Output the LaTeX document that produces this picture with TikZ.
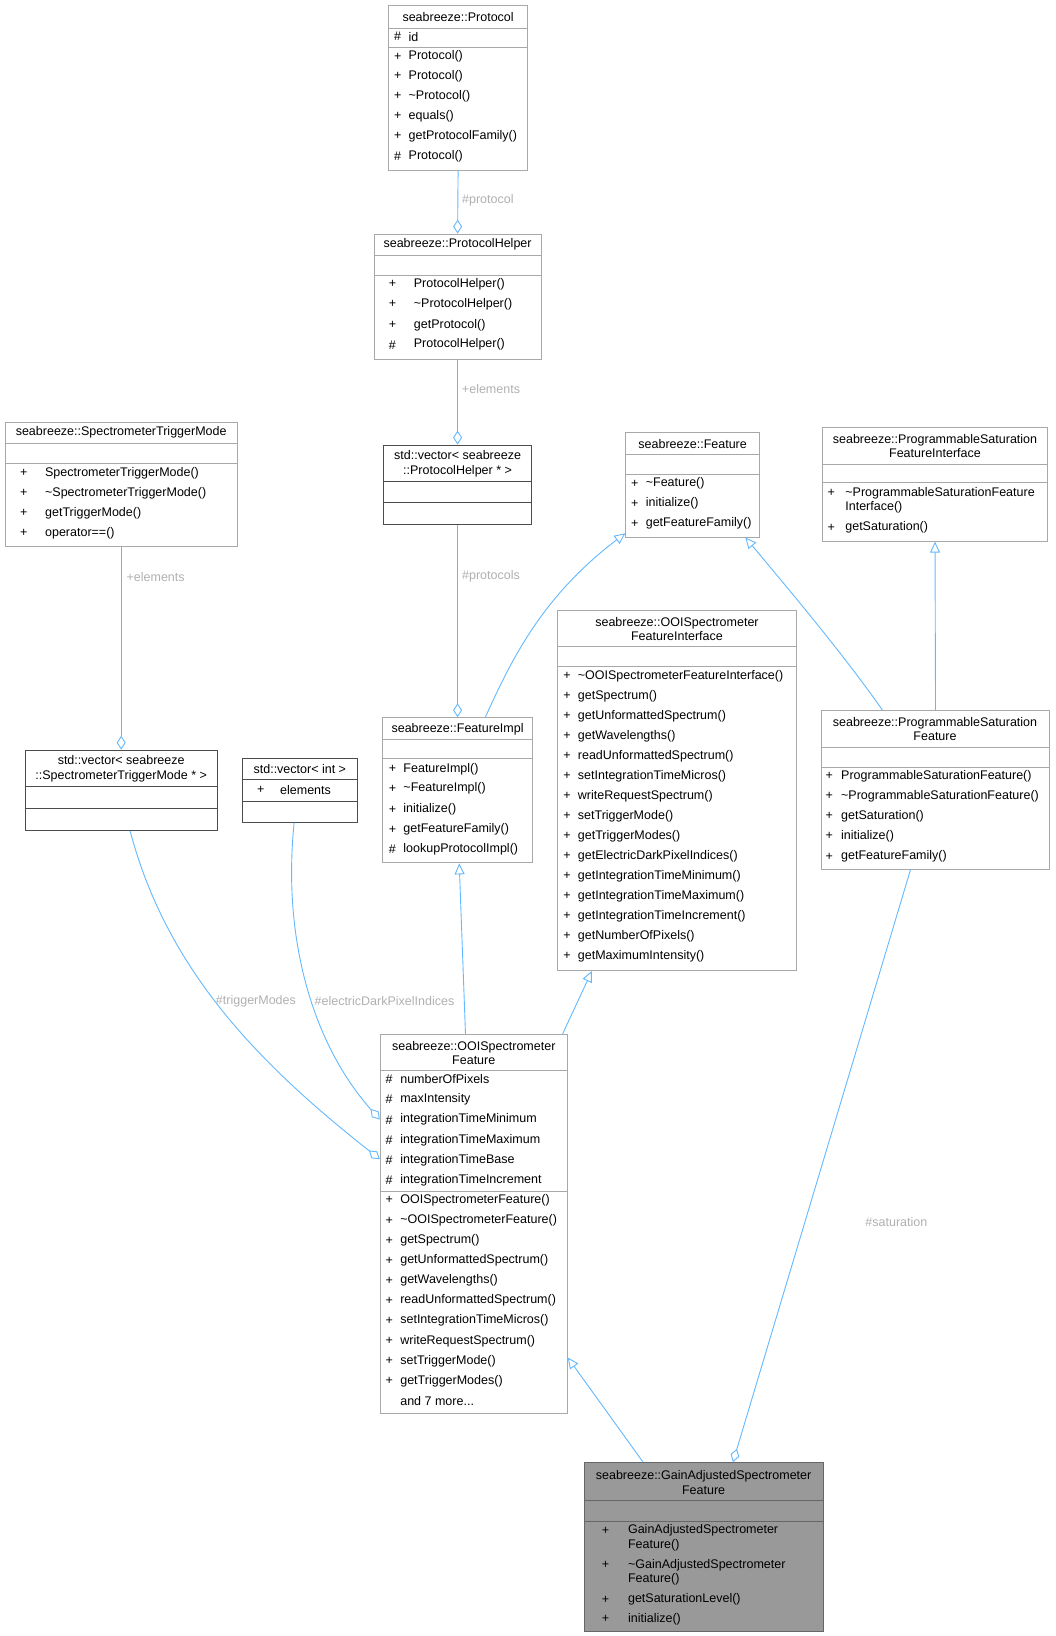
\documentclass[tikz,border=0pt]{standalone}
\usepackage{fontspec}
\setmainfont{Liberation Sans}
\usetikzlibrary{arrows.meta,fit,calc}
\definecolor{edge}{HTML}{63B8FF}
\definecolor{lbl}{HTML}{B0B0B0}
\definecolor{bord}{HTML}{A8A8A8}
\tikzset{
  cls/.style={draw=bord,inner sep=0pt,line width=0.9pt},
  dcls/.style={draw=black!70,inner sep=0pt,line width=0.9pt},
  gcls/.style={draw=black!60,fill=black!40,inner sep=0pt,line width=0.9pt},
  txt/.style={anchor=west,inner sep=0pt,font=\fontsize{12.5}{14.5}\selectfont},
  ctxt/.style={inner sep=0pt,align=center,font=\fontsize{12.5}{14.5}\selectfont},
  lab/.style={inner sep=0pt,text=lbl,font=\fontsize{12.5}{14.5}\selectfont},
  conn/.style={draw=edge,line width=0.9pt},
  inh/.style={conn,-{Triangle[open,length=11pt,width=10pt,fill=white]}},
  agg/.style={conn,-{Diamond[open,length=14pt,width=9pt,fill=white]}},
}
\newcommand{\bx}[6]{\path (#2,#3) coordinate (#1-a) (#4,#5) coordinate (#1-b);
  \node[#6,fit=(#1-a)(#1-b)] (#1) {};}
\newcommand{\sep}[3]{\draw[#3] (#1.west |- #1-a) ++(0,#2) coordinate (tmp) -- (tmp -| #1.east);}
\newcommand{\rw}[5]{\node[txt] at (#1,#3) {#4}; \node[txt] at (#2,#3) {#5};}
\begin{document}
\begin{tikzpicture}[x=1.0445pt,y=-1.0445pt]
\useasboundingbox (0,0) rectangle (1010,1566);
% Protocol
\bx{proto}{372}{5}{505}{163}{cls}
\node[ctxt] at (438.5,16) {seabreeze::Protocol};
\sep{proto}{22}{bord}\sep{proto}{40}{bord}
\rw{377}{391}{35}{\#}{id}
\rw{377}{391}{54}{+}{Protocol()}
\rw{377}{391}{73}{+}{Protocol()}
\rw{377}{391}{92}{+}{\textasciitilde Protocol()}
\rw{377}{391}{111}{+}{equals()}
\rw{377}{391}{130}{+}{getProtocolFamily()}
\rw{377}{391}{150}{\#}{Protocol()}
% ProtocolHelper
\bx{helper}{358}{224}{518}{344}{cls}
\node[ctxt] at (438,234) {seabreeze::ProtocolHelper};
\sep{helper}{20}{bord}\sep{helper}{39}{bord}
\rw{372}{396}{272}{+}{ProtocolHelper()}
\rw{372}{396}{291}{+}{\textasciitilde ProtocolHelper()}
\rw{372}{396}{311}{+}{getProtocol()}
\rw{372}{396}{330}{\#}{ProtocolHelper()}
% vector helper
\bx{vhelp}{367}{426}{509}{502}{dcls}
\node[ctxt] at (438,444) {std::vector< seabreeze\\::ProtocolHelper * >};
\sep{vhelp}{35}{black!70}\sep{vhelp}{55}{black!70}
% STM
\bx{stm}{5}{404}{227}{523}{cls}
\node[ctxt] at (116,414) {seabreeze::SpectrometerTriggerMode};
\sep{stm}{20}{bord}\sep{stm}{39}{bord}
\rw{19}{43}{453}{+}{SpectrometerTriggerMode()}
\rw{19}{43}{472}{+}{\textasciitilde SpectrometerTriggerMode()}
\rw{19}{43}{491}{+}{getTriggerMode()}
\rw{19}{43}{510}{+}{operator==()}
% Feature
\bx{feat}{599}{414}{727}{514}{cls}
\node[ctxt] at (663,425) {seabreeze::Feature};
\sep{feat}{21}{bord}\sep{feat}{40}{bord}
\rw{604}{618}{463}{+}{\textasciitilde Feature()}
\rw{604}{618}{482}{+}{initialize()}
\rw{604}{618}{501}{+}{getFeatureFamily()}
% PSFI
\bx{psfi}{787}{409}{1003}{518}{cls}
\node[ctxt] at (895,427) {seabreeze::ProgrammableSaturation\\FeatureInterface};
\sep{psfi}{35}{bord}\sep{psfi}{53}{bord}
\rw{792}{809}{472}{+}{\textasciitilde ProgrammableSaturationFeature}
\node[txt] at (809,486) {Interface()};
\rw{792}{809}{505}{+}{getSaturation()}
% vector STM
\bx{vstm}{24}{718}{208}{795}{dcls}
\node[ctxt] at (116,736) {std::vector< seabreeze\\::SpectrometerTriggerMode * >};
\sep{vstm}{35}{black!70}\sep{vstm}{56}{black!70}
% vector int
\bx{vint}{232}{726}{342}{787}{dcls}
\node[ctxt] at (287,736) {std::vector< int >};
\sep{vint}{20}{black!70}\sep{vint}{41}{black!70}
\rw{246}{268}{756}{+}{elements}
% FeatureImpl
\bx{fimpl}{366}{687}{510}{826}{cls}
\node[ctxt] at (438,698) {seabreeze::FeatureImpl};
\sep{fimpl}{21}{bord}\sep{fimpl}{39}{bord}
\rw{372}{386}{736}{+}{FeatureImpl()}
\rw{372}{386}{755}{+}{\textasciitilde FeatureImpl()}
\rw{372}{386}{775}{+}{initialize()}
\rw{372}{386}{794}{+}{getFeatureFamily()}
\rw{372}{386}{813}{\#}{lookupProtocolImpl()}
% OOISFI
\bx{ooifi}{534}{584}{762}{929}{cls}
\node[ctxt] at (648,602) {seabreeze::OOISpectrometer\\FeatureInterface};
\sep{ooifi}{35}{bord}\sep{ooifi}{54}{bord}
\foreach \t [count=\i from 0] in {\textasciitilde OOISpectrometerFeatureInterface(),getSpectrum(),getUnformattedSpectrum(),getWavelengths(),readUnformattedSpectrum(),setIntegrationTimeMicros(),writeRequestSpectrum(),setTriggerMode(),getTriggerModes(),getElectricDarkPixelIndices(),getIntegrationTimeMinimum(),getIntegrationTimeMaximum(),getIntegrationTimeIncrement(),getNumberOfPixels(),getMaximumIntensity()}
  {\rw{539}{553}{647+19.16*\i}{+}{\t}}
% PSF
\bx{psf}{786}{680}{1005}{832}{cls}
\node[ctxt] at (895,698) {seabreeze::ProgrammableSaturation\\Feature};
\sep{psf}{35}{bord}\sep{psf}{54}{bord}
\rw{790}{805}{743}{+}{ProgrammableSaturationFeature()}
\rw{790}{805}{762}{+}{\textasciitilde ProgrammableSaturationFeature()}
\rw{790}{805}{781}{+}{getSaturation()}
\rw{790}{805}{800}{+}{initialize()}
\rw{790}{805}{820}{+}{getFeatureFamily()}
% OOISF
\bx{ooisf}{364}{990}{543}{1353}{cls}
\node[ctxt] at (453.5,1008) {seabreeze::OOISpectrometer\\Feature};
\sep{ooisf}{34}{bord}\sep{ooisf}{150}{bord}
\foreach \t [count=\i from 0] in {numberOfPixels,maxIntensity,integrationTimeMinimum,integrationTimeMaximum,integrationTimeBase,integrationTimeIncrement}
  {\rw{369}{383}{1033+19.4*\i}{\#}{\t}}
\foreach \t [count=\i from 0] in {OOISpectrometerFeature(),\textasciitilde OOISpectrometerFeature(),getSpectrum(),getUnformattedSpectrum(),getWavelengths(),readUnformattedSpectrum(),setIntegrationTimeMicros(),writeRequestSpectrum(),setTriggerMode(),getTriggerModes()}
  {\rw{369}{383}{1149+19.2*\i}{+}{\t}}
\node[txt] at (383,1341) {and 7 more...};
% Gain
\bx{gain}{559}{1400}{788}{1562}{gcls}
\node[ctxt] at (673.5,1419) {seabreeze::GainAdjustedSpectrometer\\Feature};
\sep{gain}{36}{black!60}\sep{gain}{56}{black!60}
\rw{576}{601}{1465}{+}{GainAdjustedSpectrometer}
\node[txt] at (601,1479) {Feature()};
\rw{576}{601}{1498}{+}{\textasciitilde GainAdjustedSpectrometer}
\node[txt] at (601,1512) {Feature()};
\rw{576}{601}{1531}{+}{getSaturationLevel()}
\rw{576}{601}{1550}{+}{initialize()}
% connectors
\draw[agg] (proto.south) -- (helper.north);
\node[lab] at (467,192) {\#protocol};
\draw[agg] (helper.south) -- (vhelp.north);
\node[lab] at (470,372) {+elements};
\draw[agg] (vhelp.south) -- (fimpl.north);
\node[lab] at (470,552) {\#protocols};
\draw[agg] (stm.south) -- (vstm.north);
\node[lab] at (149,552) {+elements};
\draw[inh] ($(fimpl.north west)+(99,0)$) .. controls (490,630) and (520,570) .. ($(feat.south west)+(0,-4)$);
\draw[inh] ($(psf.north west)+(59,0)$) .. controls (810,630) and (760,570) .. ($(feat.south east)+(-14,0)$);
\draw[inh] (psf.north) -- (psfi.south);
\draw[inh] ($(ooisf.north west)+(82,0)$) -- ($(fimpl.south west)+(74,0)$);
\draw[inh] ($(ooisf.north west)+(175,0)$) -- ($(ooifi.south west)+(33,0)$);
\draw[agg] ($(vstm.south west)+(101,0)$) .. controls (160,930) and (250,1020) .. ($(ooisf.north west)+(0,120)$);
\node[lab] at (245,958) {\#triggerModes};
\draw[agg] ($(vint.south west)+(50,0)$) .. controls (270,900) and (300,1000) .. ($(ooisf.north west)+(0,82)$);
\node[lab] at (368,958) {\#electricDarkPixelIndices};
\draw[inh] ($(gain.north west)+(57,0)$) -- ($(ooisf.south east)+(0,-54)$);
\draw[agg] ($(psf.south west)+(86,0)$) -- ($(gain.north west)+(143,0)$);
\node[lab] at (858,1170) {\#saturation};
\end{tikzpicture}
\end{document}
